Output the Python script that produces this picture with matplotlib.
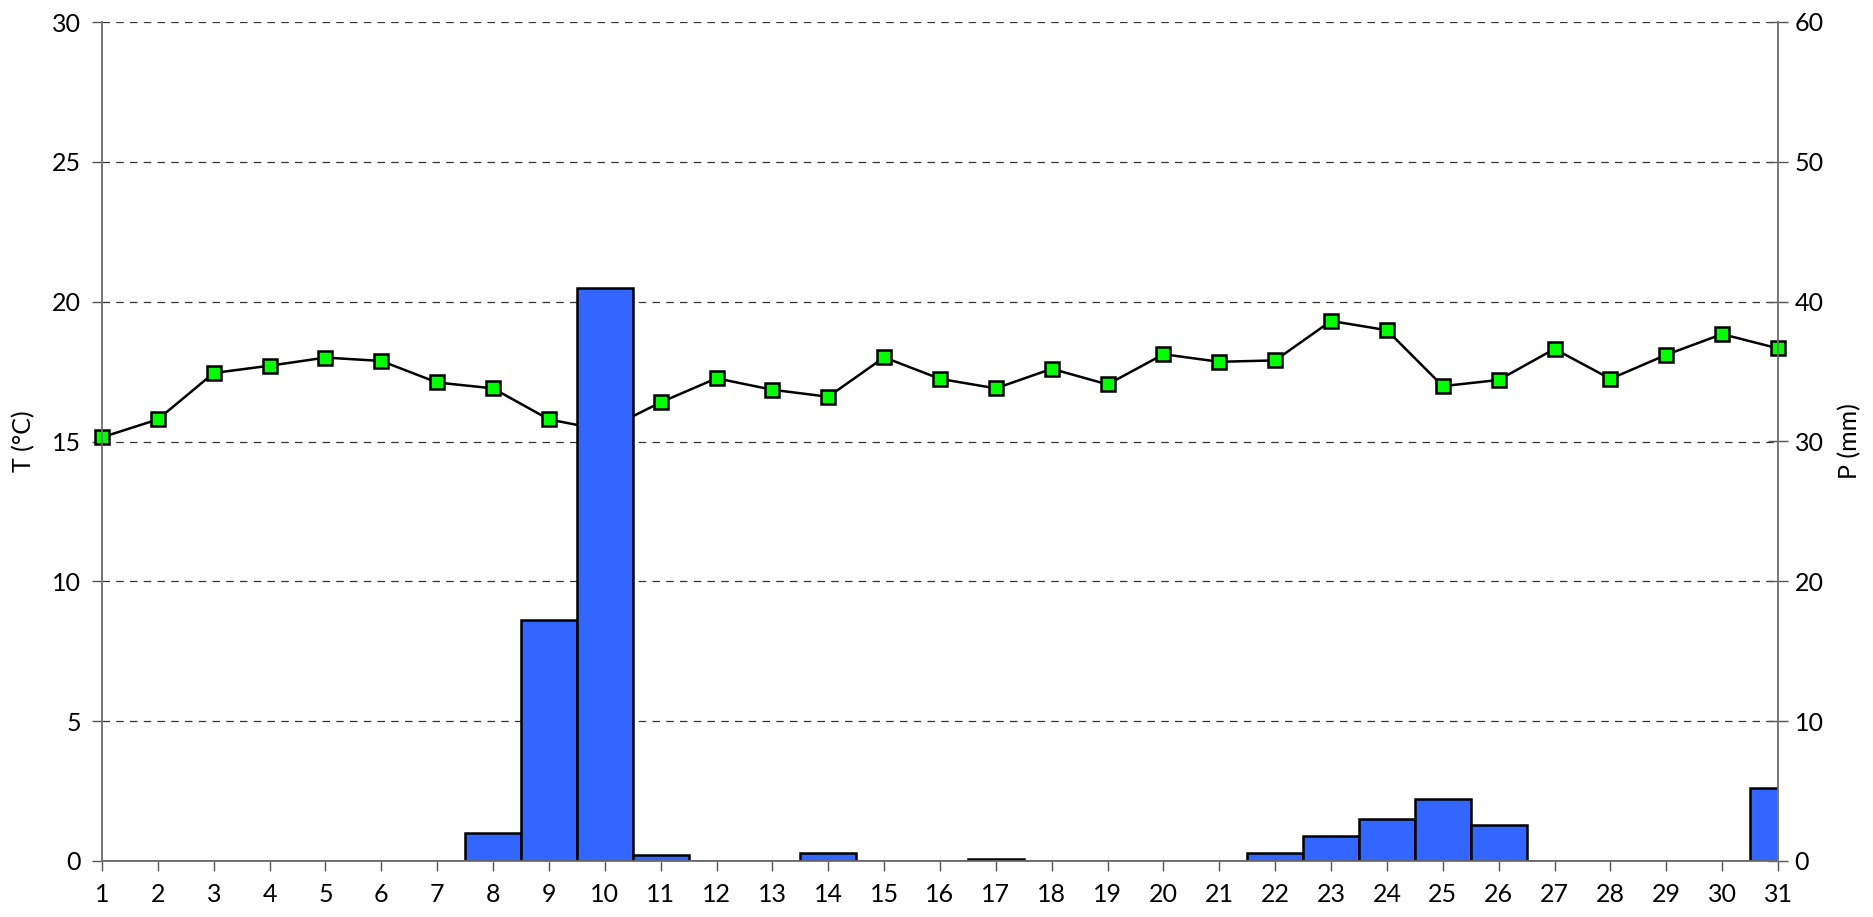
import matplotlib
matplotlib.use("Agg")
import matplotlib.pyplot as plt

days = list(range(1, 32))
temperature = [15.15, 15.79, 17.45, 17.71, 18.0, 17.88, 17.11, 16.9, 15.79, 15.4,
               16.40, 17.26, 16.85, 16.60, 18.01, 17.24, 16.90, 17.60, 17.04, 18.12,
               17.85, 17.90, 19.31, 18.98, 16.98, 17.20, 18.31, 17.24, 18.10, 18.84, 18.33]
precip = [0, 0, 0, 0, 0, 0, 0, 2.0, 17.2, 41.0,
          0.4, 0, 0, 0.6, 0, 0, 0.15, 0, 0, 0,
          0, 0.6, 1.8, 3.0, 4.4, 2.6, 0, 0, 0, 0, 5.2]

plt.rcParams['font.family'] = ['Lato', 'DejaVu Sans']

fig = plt.figure(figsize=(18.74, 9.17), dpi=100)
ax = fig.add_axes([102/1874, 1-861/917, (1778-102)/1874, (861-22)/917])
ax2 = ax.twinx()

ax.plot(days, temperature, color='black', lw=1.8, marker='s', markersize=10,
        markerfacecolor='#00FF00', markeredgecolor='black', markeredgewidth=1.8,
        zorder=3, clip_on=False)
ax.set_xlim(1, 31)
ax.set_ylim(0, 30)
ax.set_yticks(range(0, 31, 5))
ax.set_xticks(days)
ax.yaxis.grid(True, linestyle=(0, (6, 5)), color='#333333', lw=0.9)
ax.set_axisbelow(True)

ax2.bar(days, precip, width=1.0, color='#3366FF', edgecolor='black', lw=1.8, zorder=2)
ax2.set_ylim(0, 60)
ax2.set_yticks(range(0, 61, 10))

for a in (ax, ax2):
    a.spines['top'].set_visible(False)
    for s in ('left', 'right', 'bottom'):
        a.spines[s].set_color('#777777')
        a.spines[s].set_linewidth(1.2)

ax.tick_params(axis='y', direction='out', length=7, width=1, color='#555555',
               labelsize=18, pad=8)
ax.tick_params(axis='x', direction='out', length=7, width=1, color='#555555',
               labelsize=18, pad=9)
ax2.tick_params(axis='y', direction='inout', length=14, width=1, color='#555555',
                labelsize=18, pad=5)

ax.set_ylabel('T (°C)', fontsize=18, labelpad=12)
ax2.set_ylabel('P (mm)', fontsize=18, labelpad=10)

fig.savefig('out.png', dpi=100)
